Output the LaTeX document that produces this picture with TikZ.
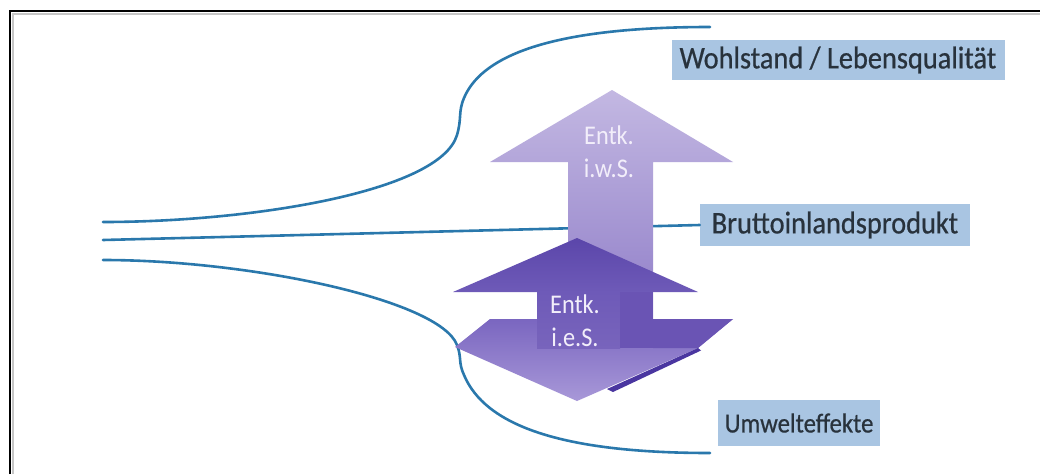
\documentclass[tikz,border=0pt]{standalone}
\usepackage{fontspec}
\setmainfont{Carlito}
\newfontfamily\labfont[FakeStretch=0.9,FakeBold=0.6]{Carlito}
\newfontfamily\arrfont[FakeStretch=0.9]{Carlito}
\definecolor{lineblue}{HTML}{2A78AC}
\definecolor{labfill}{HTML}{A9C5E2}
\definecolor{labtext}{HTML}{28323C}
\definecolor{bigtop}{HTML}{C3B8E2}
\definecolor{bigbot}{HTML}{8A77C5}
\definecolor{headdark}{HTML}{5B46AA}
\definecolor{headlight}{HTML}{6E5AB8}
\definecolor{pentlight}{HTML}{A898D8}
\definecolor{pentdark}{HTML}{7A66C0}
\definecolor{shaftcol}{HTML}{7864BC}
\definecolor{darkrect}{HTML}{6A54B4}
\definecolor{shadowcol}{HTML}{4A36A0}
\definecolor{arrtextcol}{HTML}{F2EEFA}
\begin{document}
\begin{tikzpicture}[x=1pt,y=-1pt,
  blueline/.style={draw=lineblue,line width=2.6pt,line cap=round},
  lab/.style={fill=labfill,text=labtext,inner sep=0pt,font=\labfont\fontsize{31.5}{33}\selectfont},
  arrtext/.style={text=arrtextcol,align=center,inner sep=0pt,font=\arrfont\fontsize{27}{33}\selectfont}]
\useasboundingbox (0,0) rectangle (1040,474);
\fill[white] (0,0) rectangle (1040,474);
% frame
\draw[gray!45,line width=1.5pt] (12.8,474) -- (12.8,13.8) -- (1040,13.8);
\draw[black,line width=2.6pt] (10,474) -- (10,11) -- (1040,11);
% labels
\node[lab,minimum width=333pt,minimum height=40pt] (wohl) at (838,60) {Wohlstand / Lebensqualität};
\node[lab,minimum width=270pt,minimum height=42pt] (bip) at (835,225) {Bruttoinlandsprodukt};
\node[lab,minimum width=162pt,minimum height=46pt,font=\labfont\fontsize{27.5}{30}\selectfont] (umw) at (799,423) {Umwelteffekte};
% lines
\coordinate (s1) at (103,222);
\coordinate (s2) at (103,240);
\coordinate (s3) at (103,260);
\coordinate (e1) at (710,27);
\coordinate (e3) at (710,453);
\draw[blueline] (s1) .. controls (250,222) and (440,192) .. (457,135) .. controls (462,118) and (458,112) .. (464,98) .. controls (480,60) and (540,27) .. (e1);
\draw[blueline] (s2) -- (bip.west);
\draw[blueline] (s3) .. controls (250,260) and (440,300) .. (457,345) .. controls (462,358) and (458,362) .. (464,375) .. controls (485,425) and (560,453) .. (e3);
% big arrow
\shade[top color=bigtop,bottom color=bigbot] (612,90) -- (733,162) -- (653,162) -- (653,348) -- (568,348) -- (568,162) -- (490,162) -- cycle;
% lower arrow
\shade[top color=pentdark,bottom color=pentlight] (490,319) -- (733,319) -- (698,348) -- (577,401) -- (455,347) -- cycle;
\fill[darkrect] (653,319) -- (733,319) -- (698,348) -- (653,348) -- cycle;
\fill[shadowcol] (698,348) -- (701,350.5) -- (613,392) -- (607,389) -- cycle;
\shade[top color=headlight,bottom color=shaftcol] (537,292) rectangle (620,348);
\fill[darkrect] (620,292) rectangle (653,348);
\shade[top color=headdark,bottom color=headlight] (577,238) -- (698,292) -- (453,292) -- cycle;
% arrow texts
\node[arrtext] (t1) at (609,152) {Entk.\\i.w.S.};
\node[arrtext] (t2) at (575,321) {Entk.\\i.e.S.};
\end{tikzpicture}
\end{document}
